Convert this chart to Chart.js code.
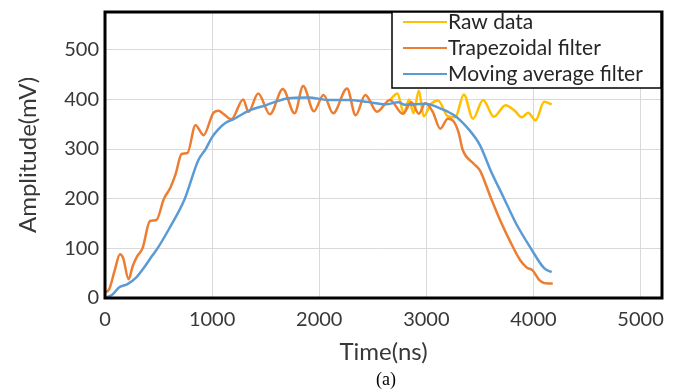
<!DOCTYPE html>
<html>
<head>
<meta charset="utf-8">
<script src="https://cdn.jsdelivr.net/npm/chart.js@4"></script>
<style>
  body { margin: 0; background: #fff; }
  #wrap { width: 674px; height: 392px; }
</style>
</head>
<body>
<div id="wrap"><canvas id="pulseChart" width="674" height="392"></canvas></div>
<script>
// raw detector output (only the tail differs visibly from the filtered trace)
const rawTime = [2660, 2730, 2790, 2840, 2880, 2930, 2975, 3040, 3110, 3200, 3270, 3350, 3435, 3530, 3630, 3740, 3830, 3890, 3950, 4020, 4100, 4170];
const rawAmp  = [399, 412, 372, 400, 372, 418, 366, 390, 398, 366, 364, 410, 361, 399, 365, 388, 376, 364, 373, 358, 395, 390];

// trapezoidal filter output
const trapTime = [0, 40, 90, 140, 170, 220, 260, 300, 350, 420, 480, 550, 610, 660, 715, 770, 845, 920, 1010, 1060, 1110, 1180, 1290, 1340, 1430, 1540, 1660, 1770, 1850, 1950, 2040, 2130, 2260, 2340, 2430, 2540, 2660, 2780, 2860, 2930, 2990, 3060, 3130, 3200, 3250, 3300, 3340, 3440, 3500, 3600, 3690, 3780, 3880, 3940, 3990, 4060, 4140, 4180];
const trapAmp  = [11, 18, 55, 88, 80, 38, 65, 84, 100, 155, 157, 200, 222, 250, 290, 292, 348, 328, 372, 377, 370, 360, 400, 375, 412, 370, 421, 372, 427, 376, 409, 372, 422, 368, 409, 375, 399, 371, 394, 371, 392, 375, 341, 361, 357, 334, 298, 271, 257, 203, 156, 115, 75, 61, 56, 35, 29, 29];

// moving average filter output
const movTime = [0, 70, 130, 210, 290, 360, 440, 490, 600, 745, 870, 940, 1000, 1060, 1120, 1200, 1340, 1500, 1700, 1900, 2080, 2270, 2450, 2620, 2740, 2800, 2990, 3140, 3260, 3390, 3500, 3600, 3720, 3840, 3970, 4100, 4170];
const movAmp  = [0, 7, 21, 28, 41, 60, 85, 100, 140, 200, 277, 300, 324, 340, 352, 360, 377, 388, 402, 404, 399, 399, 395, 390, 394, 389, 391, 381, 368, 341, 308, 257, 203, 149, 102, 60, 52];

const xTickValues = [0, 1000, 2000, 3000, 4000, 5000];
const yTickValues = [0, 100, 200, 300, 400, 500];

const toPoints = (xs, ys) => xs.map((x, i) => ({ x: x, y: ys[i] }));

const textColor = '#383838';
const gridColor = '#d9d9d9';

// black frame round the plot area, the boxed legend and the "(a)" caption
const framePlugin = {
  id: 'frame',
  afterDraw(chart) {
    const { ctx, chartArea: a } = chart;
    ctx.save();
    ctx.strokeStyle = '#000';
    ctx.lineWidth = 3;
    ctx.strokeRect(a.left, a.top, a.right - a.left, a.bottom - a.top);

    // legend box
    const bx = 392, by = a.top, bw = a.right - bx - 1, bh = 76;
    ctx.fillStyle = '#fff';
    ctx.fillRect(bx, by, bw, bh);
    ctx.lineWidth = 1.5;
    ctx.strokeRect(bx, by, bw, bh);
    ctx.font = '21px Lato';
    ctx.textBaseline = 'middle';
    chart.data.datasets.forEach((ds, i) => {
      const y = by + 10 + i * 26;
      ctx.strokeStyle = ds.borderColor;
      ctx.lineWidth = 2;
      ctx.beginPath();
      ctx.moveTo(403, y);
      ctx.lineTo(447, y);
      ctx.stroke();
      ctx.fillStyle = '#262626';
      ctx.fillText(ds.label, 448, y);
    });

    ctx.fillStyle = '#000';
    ctx.font = '18px "Liberation Serif"';
    ctx.textAlign = 'center';
    ctx.fillText('(a)', 386, 380);
    ctx.restore();
  }
};

new Chart(document.getElementById('pulseChart'), {
  type: 'line',
  data: {
    datasets: [
      { label: 'Raw data', data: toPoints(rawTime, rawAmp), borderColor: '#FFC000', order: 3 },
      { label: 'Trapezoidal filter', data: toPoints(trapTime, trapAmp), borderColor: '#ED7D31', order: 2 },
      { label: 'Moving average filter', data: toPoints(movTime, movAmp), borderColor: '#5B9BD5', order: 1 }
    ].map(d => Object.assign(d, {
      borderWidth: 2.5,
      pointRadius: 0,
      fill: false,
      cubicInterpolationMode: 'monotone'
    }))
  },
  options: {
    responsive: false,
    animation: false,
    layout: { padding: { left: 0, right: 6, top: 12, bottom: 21 } },
    plugins: { legend: { display: false }, tooltip: { enabled: false } },
    scales: {
      x: {
        type: 'linear',
        min: 0,
        max: 5200,
        afterBuildTicks: s => { s.ticks = xTickValues.map(v => ({ value: v })); },
        afterFit: s => { s.height = 73; },
        border: { display: false },
        grid: { color: gridColor, lineWidth: 1, drawTicks: false },
        ticks: { color: textColor, font: { family: 'Lato', size: 20 }, padding: 10, maxRotation: 0, callback: v => String(v) },
        title: { display: true, text: 'Time(ns)', color: textColor, font: { family: 'Lato', size: 24 }, padding: { top: 0 } }
      },
      y: {
        min: 0,
        max: 576,
        afterBuildTicks: s => { s.ticks = yTickValues.map(v => ({ value: v })); },
        afterFit: s => { s.width = 105; s.paddingTop = 0; s.paddingBottom = 0; },
        border: { display: false },
        grid: { color: gridColor, lineWidth: 1, drawTicks: false },
        ticks: { color: textColor, font: { family: 'Lato', size: 20 }, padding: 6, callback: v => String(v) },
        title: { display: true, text: 'Amplitude(mV)', color: textColor, font: { family: 'Lato', size: 24 }, padding: { top: 14 } }
      }
    }
  },
  plugins: [framePlugin]
});
</script>
</body>
</html>
